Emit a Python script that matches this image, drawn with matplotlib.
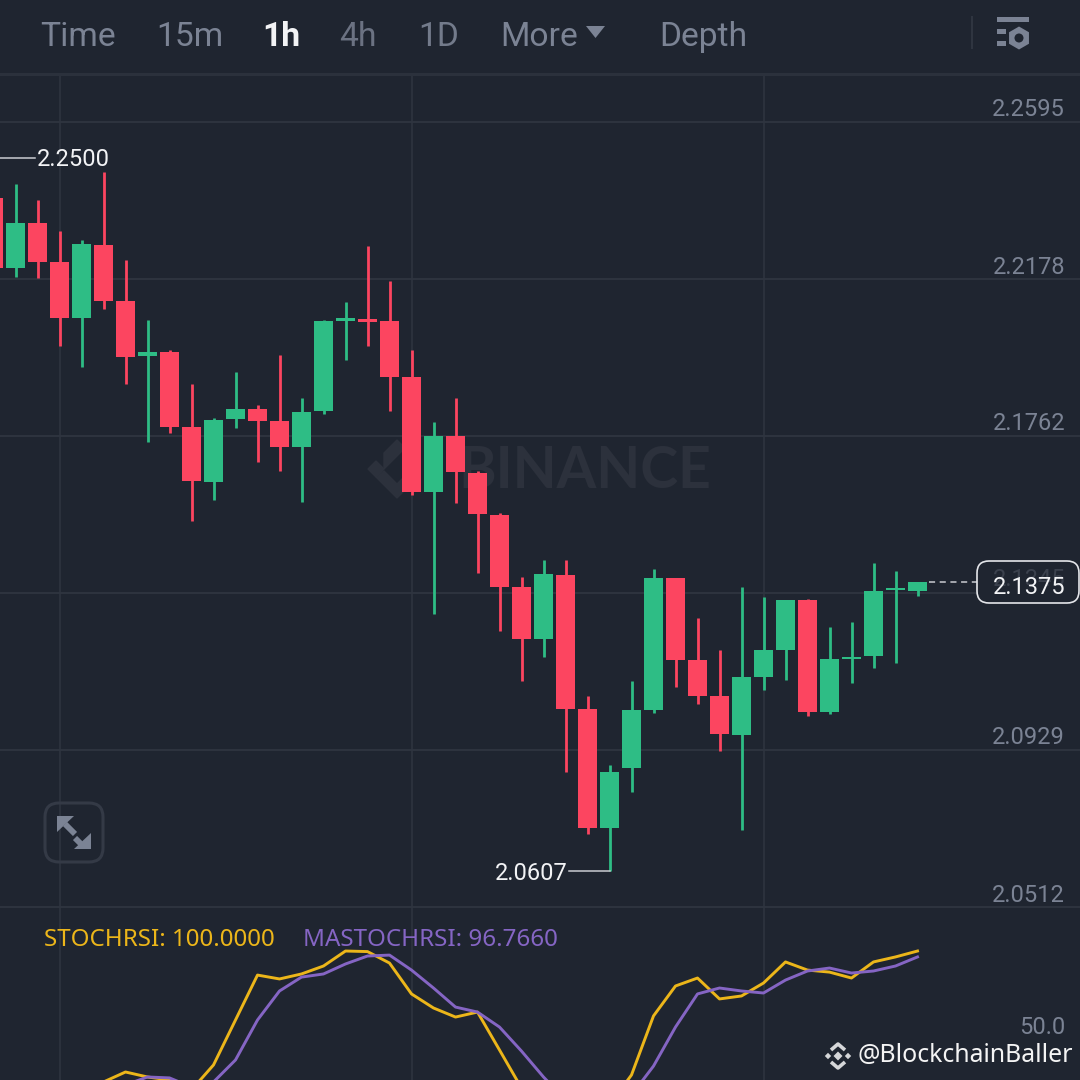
import matplotlib
matplotlib.use("Agg")
import matplotlib.pyplot as plt
from matplotlib.patches import FancyBboxPatch, Polygon, Circle, Rectangle, RegularPolygon

# candles
opens = [2.2393, 2.2208, 2.2327, 2.2224, 2.2075, 2.2269, 2.2120, 2.1974, 2.1985, 2.1786, 2.1640,
         2.1807, 2.1834, 2.1802, 2.1733, 2.1828, 2.2067, 2.2072, 2.2067, 2.1919, 2.1613, 2.1762,
         2.1664, 2.1552, 2.1361, 2.1223, 2.1393, 2.1038, 2.0722, 2.0881, 2.1035, 2.1385, 2.1168,
         2.1072, 2.0969, 2.1123, 2.1194, 2.1327, 2.1030, 2.1170, 2.1178, 2.1353, 2.1351]
highs = [2.2393, 2.2431, 2.2388, 2.2306, 2.2282, 2.2462, 2.2229, 2.2070, 2.1990, 2.1900, 2.1810,
         2.1932, 2.1844, 2.1977, 2.1863, 2.2070, 2.2118, 2.2266, 2.2173, 2.1990, 2.1799, 2.1863,
         2.1669, 2.1558, 2.1388, 2.1433, 2.1433, 2.1072, 2.0889, 2.1112, 2.1409, 2.1385, 2.1279,
         2.1194, 2.1361, 2.1335, 2.1327, 2.1330, 2.1255, 2.1268, 2.1425, 2.1404, 2.1375]
lows = [2.2208, 2.2184, 2.2181, 2.2001, 2.1945, 2.2099, 2.1900, 2.1746, 2.1770, 2.1536, 2.1592,
        2.1783, 2.1693, 2.1669, 2.1587, 2.1820, 2.1964, 2.2001, 2.1828, 2.1605, 2.1290, 2.1584,
        2.1398, 2.1245, 2.1112, 2.1176, 2.0871, 2.0706, 2.0608, 2.0818, 2.1027, 2.1096, 2.1051,
        2.0926, 2.0717, 2.1088, 2.1115, 2.1019, 2.1024, 2.1107, 2.1146, 2.1160, 2.1337]
closes = [2.2208, 2.2327, 2.2224, 2.2075, 2.2271, 2.2120, 2.1972, 2.1985, 2.1786, 2.1643, 2.1804,
          2.1834, 2.1802, 2.1733, 2.1826, 2.2067, 2.2075, 2.2064, 2.1919, 2.1613, 2.1762, 2.1666,
          2.1555, 2.1361, 2.1223, 2.1396, 2.1038, 2.0722, 2.0871, 2.1035, 2.1385, 2.1168, 2.1072,
          2.0971, 2.1123, 2.1194, 2.1327, 2.1030, 2.1170, 2.1176, 2.1351, 2.1359, 2.1375]

price_ticks = [2.2595, 2.2178, 2.1762, 2.1345, 2.0929, 2.0512]
time_ticks = [2, 18, 34]
high_label = 2.2500
low_label = 2.0607
last_price = 2.1375

# indicator, first value is candle index 4 / 5
stoch = [29.2, 34.6, 31.9, 30.3, 24.9, 38.4, 62.7, 87.0, 84.9, 87.6, 91.9, 100.0, 99.7, 93.5, 76.8,
         69.2, 64.3, 67.0, 46.5, 25.9, 19.5, 13.0, 11.4, 16.8, 33.0, 64.9, 81.1, 85.4, 74.1, 75.7,
         82.7, 94.1, 89.7, 88.6, 85.4, 94.1, 96.8, 100.0]
mastoch = [27.6, 31.9, 31.4, 26.5, 29.2, 41.1, 62.7, 78.4, 85.9, 87.6, 93.0, 97.3, 97.8, 89.7, 80.0,
           69.7, 67.0, 58.9, 45.9, 31.9, 19.5, 13.0, 13.0, 22.2, 37.8, 58.9, 76.8, 80.0, 78.4, 77.3,
           84.3, 89.2, 90.8, 88.1, 89.2, 91.9, 96.8]

tabs = ["Time", "15m", "1h", "4h", "1D", "More", "Depth"]
tab_x = [40, 156, 262, 339, 418, 500, 659]
tab_colors = ["#7b8394", "#7b8394", "#f2f3f5", "#6b7282", "#737b8b", "#7b8394", "#7b8394"]

BG = "#1f2530"
GRID = "#2f3540"
GREEN = "#2ebd85"
RED = "#fc4560"
GRAY = "#7b8394"
W = 1080.0

plt.rcParams["font.family"] = ["Roboto", "DejaVu Sans"]

fig = plt.figure(figsize=(10.8, 10.8), dpi=100, facecolor=BG)


def px_axes(left, top, right, bottom, z):
    a = fig.add_axes([left / W, 1 - bottom / W, (right - left) / W, (bottom - top) / W], zorder=z)
    a.patch.set_alpha(0)
    for s in a.spines.values():
        s.set_visible(False)
    a.set_xticks([])
    a.set_yticks([])
    return a


# underlay: watermark
under = px_axes(0, 0, W, W, 0)
under.set_xlim(0, W)
under.set_ylim(W, 0)
WM = "#2c313c"
under.text(711, 472, "BINANCE", color=WM, fontsize=41, fontweight="bold", family="Lato",
           ha="right", va="center")
wx, wy = 397, 469
under.add_patch(Polygon([(wx - 29, wy), (wx - 21, wy - 8), (wx - 13, wy), (wx - 21, wy + 8)], color=WM))
under.add_patch(Polygon([(wx, wy - 29), (wx + 8, wy - 21), (wx, wy - 13), (wx - 13, wy), (wx - 13, wy), (wx - 13, wy - 16)], color=WM))
under.add_patch(Polygon([(wx - 13, wy + 2), (wx, wy + 15), (wx + 8, wy + 7), (wx + 8, wy + 21), (wx, wy + 29), (wx - 21, wy + 8)], color=WM))

# price panel, x is candle index, 22 px per candle
ax = px_axes(0, 76, W, 907, 1)
ax.set_xlim(-15.5 / 22, (W - 15.5) / 22)
ax.set_ylim(2.0512, 2.2717)
x = list(range(-1, len(opens) - 1))
colors = [GREEN if c >= o else RED for o, c in zip(opens, closes)]

for t in time_ticks:
    ax.axvline(t, color=GRID, lw=1.1, zorder=1)
for p in price_ticks:
    ax.axhline(p, color=GRID, lw=1.3, zorder=1, clip_on=False)

ax.vlines(x, lows, highs, colors=colors, lw=2.0, zorder=3)
ax.bar(x, [abs(c - o) for o, c in zip(opens, closes)], bottom=[min(o, c) for o, c in zip(opens, closes)],
       width=0.88, color=colors, zorder=4)

# price labels
for p in price_ticks:
    ax.annotate(f"{p:.4f}", xy=(1065 / W, p), xycoords=ax.get_yaxis_transform(), xytext=(0, 12),
                textcoords="offset pixels", color=GRAY, fontsize=17, ha="right", va="center", zorder=5)

# high / low markers
ax.plot([-15.5 / 22, 0.9], [high_label, high_label], color="#c9ccd1", lw=1.1, zorder=5)
ax.annotate(f"{high_label:.4f}", xy=(0.95, high_label), xytext=(0, -2), textcoords="offset pixels",
            color="#f2f3f5", fontsize=17, ha="left", va="center", zorder=6)
ax.plot([25.15, 27], [low_label, low_label], color="#c9ccd1", lw=1.1, zorder=5)
ax.annotate(f"{low_label:.4f}", xy=(25.1, low_label), xytext=(0, -2), textcoords="offset pixels",
            color="#f2f3f5", fontsize=17, ha="right", va="center", zorder=6)

# last price
ax.plot([41.5, 43.9], [last_price, last_price], color="#c9ccd1", lw=1.1, dashes=(4, 3), zorder=5)

# indicator panel
ind = px_axes(0, 907, W, W, 1)
ind.set_xlim(-15.5 / 22, (W - 15.5) / 22)
ind.set_ylim(30.27, 123.8)
for t in time_ticks:
    ind.axvline(t, color=GRID, lw=1.1, zorder=1)
ind.plot(range(4, 4 + len(stoch)), stoch, color="#ecb61a", lw=2.1, zorder=3)
ind.plot(range(5, 5 + len(mastoch)), mastoch, color="#8565c4", lw=2.1, zorder=4)
ind.annotate("50.0", xy=(1065 / W, 50), xycoords=ind.get_yaxis_transform(), xytext=(0, 16),
             textcoords="offset pixels", color=GRAY, fontsize=17, ha="right", va="center")
ind.text(44 / W, 1 - 33 / 173, f"STOCHRSI: {stoch[-1]:.4f}", transform=ind.transAxes, color="#ecb61a",
         fontsize=17.4, family="Noto Sans", ha="left", va="center")
ind.text(303 / W, 1 - 33 / 173, "MASTOCHRSI: 96.7660", transform=ind.transAxes, color="#8565c4",
         fontsize=17.4, family="Noto Sans", ha="left", va="center")

# overlay: header, icons, price tag
over = px_axes(0, 0, W, W, 2)
over.set_xlim(0, W)
over.set_ylim(W, 0)

over.add_patch(Rectangle((0, 73), W, 3, color="#2b313c", lw=0))
for name, tx, tc in zip(tabs, tab_x, tab_colors):
    over.text(tx, 37, name, color=tc, fontsize=24.2, ha="left", va="center",
              fontweight="bold" if name == "1h" else "normal")
over.add_patch(Polygon([(586, 26), (605, 26), (595.5, 38)], color=GRAY, lw=0))

over.add_patch(Rectangle((971, 16), 2, 33, color=GRID, lw=0))
over.add_patch(Rectangle((997, 17), 32, 5, color=GRAY, lw=0))
over.add_patch(Rectangle((997, 29), 9, 5, color=GRAY, lw=0))
over.add_patch(Rectangle((997, 41), 9, 5, color=GRAY, lw=0))
over.add_patch(RegularPolygon((1019, 38), 6, radius=11.5, color=GRAY, lw=0))
over.add_patch(Circle((1019, 38), 4.5, color=BG, lw=0))

over.add_patch(FancyBboxPatch((52, 810), 44, 45, boxstyle="round,pad=7,rounding_size=14", fc="none", ec="#343a46", lw=2.2))
over.add_patch(Polygon([(57, 816), (57, 832), (74, 816)], color=GRAY, lw=0))
over.add_patch(Polygon([(91, 849), (91, 833), (74, 849)], color=GRAY, lw=0))
over.plot([65, 75], [824, 834], color=GRAY, lw=4.2, solid_capstyle="butt")
over.plot([75, 84], [838, 847], color=GRAY, lw=4.2, solid_capstyle="butt")

over.add_patch(FancyBboxPatch((987, 571), 82, 22, boxstyle="round,pad=10,rounding_size=12", fc=BG, ec="#e4e6ea", lw=1.2))
over.text(1065, 579, "2.1345", color="#3b414d", fontsize=17, ha="right", va="center")
over.text(1065, 587, f"{last_price:.4f}", color="#f2f3f5", fontsize=17, ha="right", va="center")

# bottom right handle
lx, ly = 838, 1056
LOGO = "#d6d7d9"
for dx, dy, r in [(0, 0, 4.5), (-10, 0, 3.2), (10, 0, 3.2)]:
    over.add_patch(Polygon([(lx + dx - r, ly + dy), (lx + dx, ly + dy - r), (lx + dx + r, ly + dy), (lx + dx, ly + dy + r)], color=LOGO, lw=0))
over.plot([lx - 7, lx, lx + 7], [ly - 6, ly - 12, ly - 6], color=LOGO, lw=2.6, solid_capstyle="butt")
over.plot([lx - 7, lx, lx + 7], [ly + 6, ly + 12, ly + 6], color=LOGO, lw=2.6, solid_capstyle="butt")
over.text(1073, 1056, "@BlockchainBaller", color="#f4f4f4", fontsize=17.9, family="Noto Sans", ha="right", va="center")

fig.savefig("out.png", dpi=100, facecolor=BG)
